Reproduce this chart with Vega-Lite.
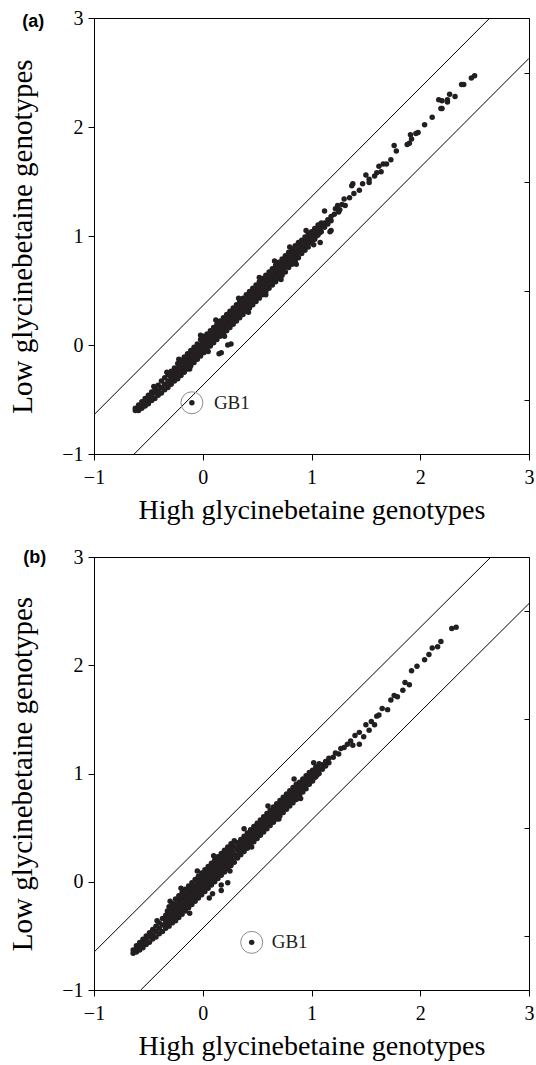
{
  "$schema": "https://vega.github.io/schema/vega-lite/v6.json",
  "padding": {"left": 8, "top": 7, "right": 0, "bottom": 0},
  "spacing": 21,
  "config": {
    "view": {"stroke": "black", "strokeWidth": 1},
    "font": "Liberation Serif",
    "axis": {
      "grid": false, "domainColor": "black", "tickColor": "black", "labelColor": "black", "titleColor": "black",
      "labelFont": "Liberation Serif", "titleFont": "Liberation Serif", "labelFontSize": 20, "titleFontSize": 28,
      "titleFontWeight": "normal", "labelFlush": false, "labelOverlap": false, "labelBound": false, "tickSize": 6, "domainWidth": 1, "tickWidth": 1
    }
  },
  "datasets": {
    "a": [
      {"x":-0.62,"y":-0.60},{"x":-0.62,"y":-0.58},
      {"x":-0.59,"y":-0.60},{"x":-0.59,"y":-0.57},{"x":-0.59,"y":-0.55},
      {"x":-0.56,"y":-0.58},{"x":-0.56,"y":-0.55},{"x":-0.56,"y":-0.52},
      {"x":-0.53,"y":-0.56},{"x":-0.53,"y":-0.52},{"x":-0.53,"y":-0.49},
      {"x":-0.50,"y":-0.54},{"x":-0.50,"y":-0.50},{"x":-0.50,"y":-0.46},
      {"x":-0.47,"y":-0.51},{"x":-0.47,"y":-0.47},{"x":-0.47,"y":-0.43},
      {"x":-0.44,"y":-0.49},{"x":-0.44,"y":-0.44},{"x":-0.44,"y":-0.40},
      {"x":-0.41,"y":-0.46},{"x":-0.41,"y":-0.42},{"x":-0.41,"y":-0.37},
      {"x":-0.38,"y":-0.44},{"x":-0.38,"y":-0.39},{"x":-0.38,"y":-0.33},
      {"x":-0.35,"y":-0.41},{"x":-0.35,"y":-0.36},{"x":-0.35,"y":-0.30},
      {"x":-0.32,"y":-0.39},{"x":-0.32,"y":-0.33},{"x":-0.32,"y":-0.27},
      {"x":-0.29,"y":-0.36},{"x":-0.29,"y":-0.30},{"x":-0.29,"y":-0.24},
      {"x":-0.26,"y":-0.33},{"x":-0.26,"y":-0.27},{"x":-0.26,"y":-0.21},
      {"x":-0.23,"y":-0.31},{"x":-0.23,"y":-0.24},{"x":-0.23,"y":-0.17},
      {"x":-0.20,"y":-0.28},{"x":-0.20,"y":-0.21},{"x":-0.20,"y":-0.14},
      {"x":-0.17,"y":-0.25},{"x":-0.17,"y":-0.18},{"x":-0.17,"y":-0.11},
      {"x":-0.14,"y":-0.22},{"x":-0.14,"y":-0.15},{"x":-0.14,"y":-0.08},
      {"x":-0.11,"y":-0.19},{"x":-0.11,"y":-0.12},{"x":-0.11,"y":-0.05},
      {"x":-0.08,"y":-0.16},{"x":-0.08,"y":-0.09},{"x":-0.08,"y":-0.02},
      {"x":-0.05,"y":-0.13},{"x":-0.05,"y":-0.06},{"x":-0.05,"y":0.01},
      {"x":-0.02,"y":-0.10},{"x":-0.02,"y":-0.03},{"x":-0.02,"y":0.05},
      {"x":0.01,"y":-0.07},{"x":0.01,"y":0.00},{"x":0.01,"y":0.08},
      {"x":0.04,"y":-0.04},{"x":0.04,"y":0.03},{"x":0.04,"y":0.10},
      {"x":0.07,"y":-0.01},{"x":0.07,"y":0.06},{"x":0.07,"y":0.13},
      {"x":0.10,"y":0.02},{"x":0.10,"y":0.09},{"x":0.10,"y":0.16},
      {"x":0.13,"y":0.05},{"x":0.13,"y":0.12},{"x":0.13,"y":0.19},
      {"x":0.16,"y":0.08},{"x":0.16,"y":0.15},{"x":0.16,"y":0.22},
      {"x":0.19,"y":0.11},{"x":0.19,"y":0.18},{"x":0.19,"y":0.25},
      {"x":0.22,"y":0.13},{"x":0.22,"y":0.21},{"x":0.22,"y":0.28},
      {"x":0.25,"y":0.16},{"x":0.25,"y":0.24},{"x":0.25,"y":0.31},
      {"x":0.28,"y":0.19},{"x":0.28,"y":0.27},{"x":0.28,"y":0.34},
      {"x":0.31,"y":0.22},{"x":0.31,"y":0.30},{"x":0.31,"y":0.37},
      {"x":0.34,"y":0.25},{"x":0.34,"y":0.33},{"x":0.34,"y":0.40},
      {"x":0.37,"y":0.28},{"x":0.37,"y":0.36},{"x":0.37,"y":0.43},
      {"x":0.40,"y":0.31},{"x":0.40,"y":0.39},{"x":0.40,"y":0.46},
      {"x":0.43,"y":0.34},{"x":0.43,"y":0.42},{"x":0.43,"y":0.49},
      {"x":0.46,"y":0.37},{"x":0.46,"y":0.45},{"x":0.46,"y":0.52},
      {"x":0.49,"y":0.40},{"x":0.49,"y":0.48},{"x":0.49,"y":0.55},
      {"x":0.52,"y":0.43},{"x":0.52,"y":0.51},{"x":0.52,"y":0.58},
      {"x":0.55,"y":0.46},{"x":0.55,"y":0.54},{"x":0.55,"y":0.61},
      {"x":0.58,"y":0.49},{"x":0.58,"y":0.57},{"x":0.58,"y":0.64},
      {"x":0.61,"y":0.52},{"x":0.61,"y":0.60},{"x":0.61,"y":0.67},
      {"x":0.64,"y":0.55},{"x":0.64,"y":0.63},{"x":0.64,"y":0.70},
      {"x":0.67,"y":0.58},{"x":0.67,"y":0.66},{"x":0.67,"y":0.73},
      {"x":0.70,"y":0.61},{"x":0.70,"y":0.69},{"x":0.70,"y":0.76},
      {"x":0.73,"y":0.64},{"x":0.73,"y":0.72},{"x":0.73,"y":0.79},
      {"x":0.76,"y":0.67},{"x":0.76,"y":0.75},{"x":0.76,"y":0.82},
      {"x":0.79,"y":0.71},{"x":0.79,"y":0.78},{"x":0.79,"y":0.85},
      {"x":0.82,"y":0.74},{"x":0.82,"y":0.81},{"x":0.82,"y":0.88},
      {"x":0.85,"y":0.77},{"x":0.85,"y":0.84},{"x":0.85,"y":0.91},
      {"x":0.88,"y":0.80},{"x":0.88,"y":0.87},{"x":0.88,"y":0.94},
      {"x":0.91,"y":0.84},{"x":0.91,"y":0.90},{"x":0.91,"y":0.96},
      {"x":0.94,"y":0.87},{"x":0.94,"y":0.93},{"x":0.94,"y":0.99},
      {"x":0.97,"y":0.90},{"x":0.97,"y":0.96},{"x":0.97,"y":1.02},
      {"x":1.00,"y":0.94},{"x":1.00,"y":0.99},{"x":1.00,"y":1.04},
      {"x":1.03,"y":0.97},{"x":1.03,"y":1.02},{"x":1.03,"y":1.07},
      {"x":1.06,"y":1.01},{"x":1.06,"y":1.05},{"x":1.06,"y":1.10},
      {"x":1.09,"y":1.04},{"x":1.09,"y":1.08},{"x":1.09,"y":1.12},
      {"x":1.12,"y":1.08},{"x":1.12,"y":1.12},
      {"x":1.15,"y":1.11},{"x":1.15,"y":1.15},
      {"x":1.18,"y":1.14},{"x":1.18,"y":1.18},
      {"x":-0.305,"y":-0.35},{"x":-0.305,"y":-0.28},{"x":-0.275,"y":-0.32},{"x":-0.275,"y":-0.25},
      {"x":-0.245,"y":-0.29},{"x":-0.245,"y":-0.22},{"x":-0.215,"y":-0.26},{"x":-0.215,"y":-0.19},
      {"x":-0.185,"y":-0.23},{"x":-0.185,"y":-0.16},{"x":-0.155,"y":-0.20},{"x":-0.155,"y":-0.13},
      {"x":-0.125,"y":-0.17},{"x":-0.125,"y":-0.10},{"x":-0.095,"y":-0.14},{"x":-0.095,"y":-0.07},
      {"x":-0.065,"y":-0.11},{"x":-0.065,"y":-0.04},{"x":-0.035,"y":-0.08},{"x":-0.035,"y":-0.01},
      {"x":-0.005,"y":-0.05},{"x":-0.005,"y":0.02},{"x":0.025,"y":-0.02},{"x":0.025,"y":0.05},
      {"x":0.055,"y":0.01},{"x":0.055,"y":0.08},{"x":0.085,"y":0.04},{"x":0.085,"y":0.11},
      {"x":0.115,"y":0.07},{"x":0.115,"y":0.14},{"x":0.145,"y":0.10},{"x":0.145,"y":0.17},
      {"x":0.175,"y":0.13},{"x":0.175,"y":0.20},{"x":0.205,"y":0.16},{"x":0.205,"y":0.23},
      {"x":0.235,"y":0.19},{"x":0.235,"y":0.26},{"x":0.265,"y":0.22},{"x":0.265,"y":0.29},
      {"x":0.295,"y":0.25},{"x":0.295,"y":0.32},{"x":0.325,"y":0.28},{"x":0.325,"y":0.35},
      {"x":0.355,"y":0.31},{"x":0.355,"y":0.38},{"x":0.385,"y":0.34},{"x":0.385,"y":0.41},
      {"x":0.415,"y":0.37},{"x":0.415,"y":0.44},{"x":0.445,"y":0.40},{"x":0.445,"y":0.47},
      {"x":0.475,"y":0.43},{"x":0.475,"y":0.50},{"x":0.505,"y":0.46},{"x":0.505,"y":0.53},
      {"x":0.535,"y":0.49},{"x":0.535,"y":0.56},{"x":0.565,"y":0.52},{"x":0.565,"y":0.59},
      {"x":0.595,"y":0.55},{"x":0.595,"y":0.62},{"x":0.625,"y":0.58},{"x":0.625,"y":0.65},
      {"x":0.655,"y":0.61},{"x":0.655,"y":0.68},{"x":0.685,"y":0.64},{"x":0.685,"y":0.71},
      {"x":0.715,"y":0.67},{"x":0.715,"y":0.74},{"x":0.745,"y":0.70},{"x":0.745,"y":0.77},
      {"x":0.775,"y":0.73},{"x":0.775,"y":0.80},{"x":0.805,"y":0.76},{"x":0.805,"y":0.83},
      {"x":0.835,"y":0.79},{"x":0.835,"y":0.86},{"x":0.865,"y":0.82},{"x":0.865,"y":0.89},
      {"x":0.895,"y":0.85},{"x":0.895,"y":0.92},{"x":0.925,"y":0.88},{"x":0.925,"y":0.95},
      {"x":0.955,"y":0.91},{"x":0.955,"y":0.98},{"x":0.985,"y":0.94},{"x":0.985,"y":1.01},
      {"x":1.015,"y":0.97},{"x":1.015,"y":1.04},{"x":1.045,"y":1.00},{"x":1.045,"y":1.07},
      {"x":1.075,"y":1.03},{"x":1.075,"y":1.10},
      {"x":-0.45,"y":-0.38},{"x":-0.33,"y":-0.25},{"x":-0.22,"y":-0.13},{"x":-0.12,"y":-0.22},{"x":-0.02,"y":0.09},
      {"x":0.05,"y":-0.06},{"x":0.12,"y":0.23},{"x":0.20,"y":0.08},{"x":0.33,"y":0.43},{"x":0.42,"y":0.30},
      {"x":0.52,"y":0.62},{"x":0.58,"y":0.46},{"x":0.66,"y":0.77},{"x":0.72,"y":0.60},{"x":0.80,"y":0.90},
      {"x":0.86,"y":0.74},{"x":0.95,"y":1.05},{"x":1.02,"y":0.92},
      {"x":1.21,"y":1.20},{"x":1.25,"y":1.22},{"x":1.22,"y":1.25},{"x":1.26,"y":1.24},{"x":1.31,"y":1.28},
      {"x":1.24,"y":1.28},{"x":1.28,"y":1.29},{"x":1.30,"y":1.34},{"x":1.35,"y":1.35},{"x":1.39,"y":1.39},
      {"x":1.44,"y":1.42},{"x":1.37,"y":1.46},{"x":1.38,"y":1.48},{"x":1.47,"y":1.48},{"x":1.53,"y":1.49},
      {"x":1.50,"y":1.56},{"x":1.53,"y":1.52},{"x":1.58,"y":1.55},{"x":1.60,"y":1.58},{"x":1.64,"y":1.59},
      {"x":1.62,"y":1.64},{"x":1.66,"y":1.66},{"x":1.69,"y":1.66},{"x":1.73,"y":1.70},{"x":1.78,"y":1.78},
      {"x":1.76,"y":1.83},{"x":1.90,"y":1.85},{"x":1.88,"y":1.84},{"x":1.92,"y":1.89},{"x":1.91,"y":1.93},
      {"x":1.96,"y":1.94},{"x":1.98,"y":1.95},{"x":2.04,"y":2.02},{"x":2.11,"y":2.09},{"x":2.20,"y":2.17},
      {"x":2.19,"y":2.17},{"x":2.17,"y":2.25},{"x":2.20,"y":2.24},{"x":2.25,"y":2.23},{"x":2.25,"y":2.25},
      {"x":2.27,"y":2.30},{"x":2.32,"y":2.28},{"x":2.38,"y":2.39},{"x":2.40,"y":2.39},{"x":2.47,"y":2.45},
      {"x":2.50,"y":2.47},{"x":1.12,"y":1.23},{"x":1.18,"y":1.05},{"x":1.17,"y":1.04},{"x":1.08,"y":0.94},
      {"x":0.23,"y":0.00},{"x":0.26,"y":0.01},{"x":0.15,"y":-0.08},{"x":0.17,"y":-0.07},
      {"x":-0.10,"y":-0.53}
    ],
    "b": [
      {"x":-0.64,"y":-0.66},{"x":-0.64,"y":-0.63},
      {"x":-0.61,"y":-0.65},{"x":-0.61,"y":-0.62},{"x":-0.61,"y":-0.59},
      {"x":-0.58,"y":-0.63},{"x":-0.58,"y":-0.60},{"x":-0.58,"y":-0.56},
      {"x":-0.55,"y":-0.61},{"x":-0.55,"y":-0.57},{"x":-0.55,"y":-0.53},
      {"x":-0.52,"y":-0.58},{"x":-0.52,"y":-0.54},{"x":-0.52,"y":-0.50},
      {"x":-0.49,"y":-0.56},{"x":-0.49,"y":-0.51},{"x":-0.49,"y":-0.47},
      {"x":-0.46,"y":-0.53},{"x":-0.46,"y":-0.49},{"x":-0.46,"y":-0.44},
      {"x":-0.43,"y":-0.51},{"x":-0.43,"y":-0.46},{"x":-0.43,"y":-0.41},
      {"x":-0.40,"y":-0.48},{"x":-0.40,"y":-0.43},{"x":-0.40,"y":-0.38},
      {"x":-0.37,"y":-0.46},{"x":-0.37,"y":-0.40},{"x":-0.37,"y":-0.34},
      {"x":-0.34,"y":-0.43},{"x":-0.34,"y":-0.37},{"x":-0.34,"y":-0.31},
      {"x":-0.31,"y":-0.41},{"x":-0.31,"y":-0.35},{"x":-0.31,"y":-0.28},{"x":-0.31,"y":-0.23},
      {"x":-0.28,"y":-0.38},{"x":-0.28,"y":-0.32},{"x":-0.28,"y":-0.25},{"x":-0.28,"y":-0.20},
      {"x":-0.25,"y":-0.36},{"x":-0.25,"y":-0.29},{"x":-0.25,"y":-0.22},{"x":-0.25,"y":-0.16},
      {"x":-0.22,"y":-0.33},{"x":-0.22,"y":-0.26},{"x":-0.22,"y":-0.19},{"x":-0.22,"y":-0.13},
      {"x":-0.19,"y":-0.30},{"x":-0.19,"y":-0.23},{"x":-0.19,"y":-0.16},{"x":-0.19,"y":-0.10},
      {"x":-0.16,"y":-0.27},{"x":-0.16,"y":-0.20},{"x":-0.16,"y":-0.13},{"x":-0.16,"y":-0.07},
      {"x":-0.13,"y":-0.24},{"x":-0.13,"y":-0.17},{"x":-0.13,"y":-0.10},{"x":-0.13,"y":-0.04},
      {"x":-0.10,"y":-0.21},{"x":-0.10,"y":-0.14},{"x":-0.10,"y":-0.07},{"x":-0.10,"y":-0.01},
      {"x":-0.07,"y":-0.18},{"x":-0.07,"y":-0.11},{"x":-0.07,"y":-0.04},{"x":-0.07,"y":0.02},
      {"x":-0.04,"y":-0.15},{"x":-0.04,"y":-0.08},{"x":-0.04,"y":-0.01},{"x":-0.04,"y":0.05},
      {"x":-0.01,"y":-0.12},{"x":-0.01,"y":-0.05},{"x":-0.01,"y":0.02},{"x":-0.01,"y":0.08},
      {"x":0.02,"y":-0.09},{"x":0.02,"y":-0.02},{"x":0.02,"y":0.05},{"x":0.02,"y":0.11},
      {"x":0.05,"y":-0.06},{"x":0.05,"y":0.01},{"x":0.05,"y":0.08},{"x":0.05,"y":0.14},
      {"x":0.08,"y":-0.03},{"x":0.08,"y":0.04},{"x":0.08,"y":0.11},{"x":0.08,"y":0.17},
      {"x":0.11,"y":0.00},{"x":0.11,"y":0.07},{"x":0.11,"y":0.14},{"x":0.11,"y":0.20},
      {"x":0.14,"y":0.03},{"x":0.14,"y":0.10},{"x":0.14,"y":0.17},{"x":0.14,"y":0.23},
      {"x":0.17,"y":0.06},{"x":0.17,"y":0.13},{"x":0.17,"y":0.20},{"x":0.17,"y":0.26},
      {"x":0.20,"y":0.09},{"x":0.20,"y":0.16},{"x":0.20,"y":0.23},{"x":0.20,"y":0.29},
      {"x":0.23,"y":0.12},{"x":0.23,"y":0.19},{"x":0.23,"y":0.26},{"x":0.23,"y":0.32},
      {"x":0.26,"y":0.15},{"x":0.26,"y":0.22},{"x":0.26,"y":0.29},{"x":0.26,"y":0.35},
      {"x":0.29,"y":0.18},{"x":0.29,"y":0.25},{"x":0.29,"y":0.32},{"x":0.29,"y":0.38},
      {"x":0.32,"y":0.22},{"x":0.32,"y":0.29},{"x":0.32,"y":0.36},
      {"x":0.35,"y":0.25},{"x":0.35,"y":0.32},{"x":0.35,"y":0.39},
      {"x":0.38,"y":0.28},{"x":0.38,"y":0.35},{"x":0.38,"y":0.42},
      {"x":0.41,"y":0.31},{"x":0.41,"y":0.38},{"x":0.41,"y":0.45},
      {"x":0.44,"y":0.34},{"x":0.44,"y":0.41},{"x":0.44,"y":0.48},
      {"x":0.47,"y":0.37},{"x":0.47,"y":0.44},{"x":0.47,"y":0.51},
      {"x":0.50,"y":0.40},{"x":0.50,"y":0.47},{"x":0.50,"y":0.54},
      {"x":0.53,"y":0.43},{"x":0.53,"y":0.50},{"x":0.53,"y":0.57},
      {"x":0.56,"y":0.46},{"x":0.56,"y":0.53},{"x":0.56,"y":0.60},
      {"x":0.59,"y":0.49},{"x":0.59,"y":0.56},{"x":0.59,"y":0.63},
      {"x":0.62,"y":0.52},{"x":0.62,"y":0.59},{"x":0.62,"y":0.66},
      {"x":0.65,"y":0.55},{"x":0.65,"y":0.62},{"x":0.65,"y":0.69},
      {"x":0.68,"y":0.58},{"x":0.68,"y":0.65},{"x":0.68,"y":0.72},
      {"x":0.71,"y":0.61},{"x":0.71,"y":0.68},{"x":0.71,"y":0.75},
      {"x":0.74,"y":0.64},{"x":0.74,"y":0.71},{"x":0.74,"y":0.78},
      {"x":0.77,"y":0.67},{"x":0.77,"y":0.74},{"x":0.77,"y":0.81},
      {"x":0.80,"y":0.70},{"x":0.80,"y":0.77},{"x":0.80,"y":0.84},
      {"x":0.83,"y":0.73},{"x":0.83,"y":0.80},{"x":0.83,"y":0.87},
      {"x":0.86,"y":0.76},{"x":0.86,"y":0.83},{"x":0.86,"y":0.90},
      {"x":0.89,"y":0.80},{"x":0.89,"y":0.86},{"x":0.89,"y":0.92},
      {"x":0.92,"y":0.83},{"x":0.92,"y":0.89},{"x":0.92,"y":0.95},
      {"x":0.95,"y":0.86},{"x":0.95,"y":0.92},{"x":0.95,"y":0.98},
      {"x":0.98,"y":0.90},{"x":0.98,"y":0.95},{"x":0.98,"y":1.01},
      {"x":1.01,"y":0.93},{"x":1.01,"y":0.98},{"x":1.01,"y":1.03},
      {"x":1.04,"y":0.97},{"x":1.04,"y":1.01},{"x":1.04,"y":1.06},
      {"x":1.07,"y":1.00},{"x":1.07,"y":1.04},{"x":1.07,"y":1.09},
      {"x":1.10,"y":1.04},{"x":1.10,"y":1.08},
      {"x":1.13,"y":1.07},{"x":1.13,"y":1.11},
      {"x":1.16,"y":1.10},{"x":1.16,"y":1.14},
      {"x":-0.325,"y":-0.40},{"x":-0.325,"y":-0.33},{"x":-0.325,"y":-0.27},
      {"x":-0.295,"y":-0.37},{"x":-0.295,"y":-0.30},{"x":-0.295,"y":-0.24},
      {"x":-0.265,"y":-0.34},{"x":-0.265,"y":-0.27},{"x":-0.265,"y":-0.21},
      {"x":-0.235,"y":-0.31},{"x":-0.235,"y":-0.24},{"x":-0.235,"y":-0.18},
      {"x":-0.205,"y":-0.28},{"x":-0.205,"y":-0.21},{"x":-0.205,"y":-0.15},
      {"x":-0.175,"y":-0.25},{"x":-0.175,"y":-0.18},{"x":-0.175,"y":-0.12},
      {"x":-0.145,"y":-0.22},{"x":-0.145,"y":-0.15},{"x":-0.145,"y":-0.09},
      {"x":-0.115,"y":-0.19},{"x":-0.115,"y":-0.12},{"x":-0.115,"y":-0.06},
      {"x":-0.085,"y":-0.16},{"x":-0.085,"y":-0.09},{"x":-0.085,"y":-0.03},
      {"x":-0.055,"y":-0.13},{"x":-0.055,"y":-0.06},{"x":-0.055,"y":0.01},
      {"x":-0.025,"y":-0.10},{"x":-0.025,"y":-0.03},{"x":-0.025,"y":0.04},
      {"x":0.005,"y":-0.07},{"x":0.005,"y":0.00},{"x":0.005,"y":0.07},
      {"x":0.035,"y":-0.04},{"x":0.035,"y":0.03},{"x":0.035,"y":0.10},
      {"x":0.065,"y":-0.01},{"x":0.065,"y":0.06},{"x":0.065,"y":0.13},
      {"x":0.095,"y":0.02},{"x":0.095,"y":0.09},{"x":0.095,"y":0.16},
      {"x":0.125,"y":0.05},{"x":0.125,"y":0.12},{"x":0.125,"y":0.19},
      {"x":0.155,"y":0.08},{"x":0.155,"y":0.15},{"x":0.155,"y":0.22},
      {"x":0.185,"y":0.11},{"x":0.185,"y":0.18},{"x":0.185,"y":0.25},
      {"x":0.215,"y":0.14},{"x":0.215,"y":0.21},{"x":0.215,"y":0.28},
      {"x":0.245,"y":0.17},{"x":0.245,"y":0.24},{"x":0.245,"y":0.31},
      {"x":0.275,"y":0.20},{"x":0.275,"y":0.27},{"x":0.275,"y":0.34},
      {"x":0.305,"y":0.24},{"x":0.305,"y":0.31},{"x":0.335,"y":0.27},{"x":0.335,"y":0.34},
      {"x":0.365,"y":0.30},{"x":0.365,"y":0.37},{"x":0.395,"y":0.33},{"x":0.395,"y":0.40},
      {"x":0.425,"y":0.36},{"x":0.425,"y":0.43},{"x":0.455,"y":0.39},{"x":0.455,"y":0.46},
      {"x":0.485,"y":0.42},{"x":0.485,"y":0.49},{"x":0.515,"y":0.45},{"x":0.515,"y":0.52},
      {"x":0.545,"y":0.48},{"x":0.545,"y":0.55},{"x":0.575,"y":0.51},{"x":0.575,"y":0.58},
      {"x":0.605,"y":0.54},{"x":0.605,"y":0.61},{"x":0.635,"y":0.57},{"x":0.635,"y":0.64},
      {"x":0.665,"y":0.60},{"x":0.665,"y":0.67},{"x":0.695,"y":0.63},{"x":0.695,"y":0.70},
      {"x":0.725,"y":0.66},{"x":0.725,"y":0.73},{"x":0.755,"y":0.69},{"x":0.755,"y":0.76},
      {"x":0.785,"y":0.72},{"x":0.785,"y":0.79},{"x":0.815,"y":0.75},{"x":0.815,"y":0.82},
      {"x":0.845,"y":0.78},{"x":0.845,"y":0.85},{"x":0.875,"y":0.81},{"x":0.875,"y":0.88},
      {"x":0.905,"y":0.84},{"x":0.905,"y":0.91},{"x":0.935,"y":0.87},{"x":0.935,"y":0.94},
      {"x":0.965,"y":0.90},{"x":0.965,"y":0.97},{"x":0.995,"y":0.93},{"x":0.995,"y":1.00},
      {"x":1.025,"y":0.96},{"x":1.025,"y":1.03},{"x":1.055,"y":0.99},{"x":1.055,"y":1.06},
      {"x":-0.42,"y":-0.36},{"x":-0.30,"y":-0.18},{"x":-0.20,"y":-0.06},{"x":-0.05,"y":0.10},{"x":0.10,"y":0.24},
      {"x":0.25,"y":0.10},{"x":0.38,"y":0.49},{"x":0.45,"y":0.32},{"x":0.60,"y":0.70},{"x":0.70,"y":0.58},
      {"x":0.84,"y":0.95},{"x":0.90,"y":0.77},{"x":1.02,"y":1.10},
      {"x":1.20,"y":1.15},{"x":1.22,"y":1.19},{"x":1.25,"y":1.18},{"x":1.27,"y":1.23},{"x":1.30,"y":1.24},
      {"x":1.33,"y":1.27},{"x":1.36,"y":1.30},{"x":1.38,"y":1.26},{"x":1.40,"y":1.35},{"x":1.44,"y":1.27},
      {"x":1.44,"y":1.38},{"x":1.48,"y":1.34},{"x":1.50,"y":1.45},{"x":1.53,"y":1.40},{"x":1.55,"y":1.48},
      {"x":1.58,"y":1.45},{"x":1.60,"y":1.53},{"x":1.62,"y":1.54},{"x":1.65,"y":1.60},{"x":1.70,"y":1.59},
      {"x":1.73,"y":1.68},{"x":1.76,"y":1.72},{"x":1.79,"y":1.71},{"x":1.84,"y":1.77},{"x":1.86,"y":1.84},
      {"x":1.90,"y":1.82},{"x":1.92,"y":1.95},{"x":1.97,"y":1.99},{"x":2.04,"y":2.05},{"x":2.08,"y":2.10},
      {"x":2.11,"y":2.16},{"x":2.16,"y":2.17},{"x":2.19,"y":2.22},{"x":2.29,"y":2.34},{"x":2.33,"y":2.35},
      {"x":0.17,"y":-0.03},{"x":0.23,"y":-0.01},{"x":0.17,"y":-0.08},{"x":0.09,"y":-0.11},{"x":0.06,"y":-0.15},{"x":-0.12,"y":-0.29},
      {"x":0.45,"y":-0.56}
    ],
    "la": [
      {"g":"u","x":-1,"y":-0.64},{"g":"u","x":2.64,"y":3},
      {"g":"l","x":-0.63,"y":-1},{"g":"l","x":3,"y":2.63}
    ],
    "lb": [
      {"g":"u","x":-1,"y":-0.65},{"g":"u","x":2.65,"y":3},
      {"g":"l","x":-0.57,"y":-1},{"g":"l","x":3,"y":2.57}
    ],
    "ga": [{"x":-0.10,"y":-0.53,"t":"GB1"}],
    "gb": [{"x":0.45,"y":-0.56,"t":"GB1"}],
    "ta": [{"x":-1.66,"y":2.96,"t":"(a)"}],
    "tb": [{"x":-1.65,"y":2.99,"t":"(b)"}]
  },
  "vconcat": [
    {
      "width": 435, "height": 436,
      "resolve": {"axis": {"y": "independent"}},
      "layer": [
        {
          "data": {"name": "la"},
          "mark": {"type": "line", "color": "black", "strokeWidth": 1, "clip": true},
          "encoding": {
            "x": {"field": "x", "type": "quantitative", "scale": {"domain": [-1, 3], "nice": false, "zero": false},
                  "axis": {"values": [-1, 0, 1, 2, 3], "format": "d", "title": "High glycinebetaine genotypes", "labelPadding": 7, "titlePadding": 9}},
            "y": {"field": "y", "type": "quantitative", "scale": {"domain": [-1, 3], "nice": false, "zero": false},
                  "axis": {"orient": "left", "values": [-1, 0, 1, 2, 3], "format": "d", "title": "Low glycinebetaine genotypes", "titleFontSize": 29, "labelPadding": 5, "titlePadding": 24}},
            "detail": {"field": "g"}
          }
        },
        {
          "data": {"name": "a"},
          "mark": {"type": "circle", "size": 30, "color": "#231f20", "opacity": 1, "clip": true},
          "encoding": {
            "x": {"field": "x", "type": "quantitative", "scale": {"domain": [-1, 3], "nice": false, "zero": false}},
            "y": {"field": "y", "type": "quantitative", "scale": {"domain": [-1, 3], "nice": false, "zero": false},
                  "axis": {"orient": "right", "values": [-0.5, 0.5, 1.5, 2.5], "labels": false, "tickSize": -5, "title": null}}
          }
        },
        {
          "data": {"name": "ga"},
          "mark": {"type": "point", "shape": "circle", "size": 484, "filled": false, "stroke": "#8c8c8c", "strokeWidth": 1, "opacity": 1},
          "encoding": {
            "x": {"field": "x", "type": "quantitative", "scale": {"domain": [-1, 3], "nice": false, "zero": false}},
            "y": {"field": "y", "type": "quantitative", "scale": {"domain": [-1, 3], "nice": false, "zero": false}, "axis": null}
          }
        },
        {
          "data": {"name": "ga"},
          "mark": {"type": "text", "align": "left", "baseline": "middle", "dx": 22, "fontSize": 19, "font": "Liberation Serif", "color": "#231f20"},
          "encoding": {
            "x": {"field": "x", "type": "quantitative", "scale": {"domain": [-1, 3], "nice": false, "zero": false}},
            "y": {"field": "y", "type": "quantitative", "scale": {"domain": [-1, 3], "nice": false, "zero": false}, "axis": null},
            "text": {"field": "t"}
          }
        },
        {
          "data": {"name": "ta"},
          "mark": {"type": "text", "align": "left", "baseline": "middle", "fontSize": 18, "font": "Liberation Sans", "fontWeight": "bold", "color": "black", "clip": false},
          "encoding": {
            "x": {"field": "x", "type": "quantitative", "scale": {"domain": [-1, 3], "nice": false, "zero": false}},
            "y": {"field": "y", "type": "quantitative", "scale": {"domain": [-1, 3], "nice": false, "zero": false}, "axis": null},
            "text": {"field": "t"}
          }
        }
      ]
    },
    {
      "width": 435, "height": 433,
      "resolve": {"axis": {"y": "independent"}},
      "layer": [
        {
          "data": {"name": "lb"},
          "mark": {"type": "line", "color": "black", "strokeWidth": 1, "clip": true},
          "encoding": {
            "x": {"field": "x", "type": "quantitative", "scale": {"domain": [-1, 3], "nice": false, "zero": false},
                  "axis": {"values": [-1, 0, 1, 2, 3], "format": "d", "title": "High glycinebetaine genotypes", "labelPadding": 7, "titlePadding": 9}},
            "y": {"field": "y", "type": "quantitative", "scale": {"domain": [-1, 3], "nice": false, "zero": false},
                  "axis": {"orient": "left", "values": [-1, 0, 1, 2, 3], "format": "d", "title": "Low glycinebetaine genotypes", "titleFontSize": 29, "labelPadding": 5, "titlePadding": 24}},
            "detail": {"field": "g"}
          }
        },
        {
          "data": {"name": "b"},
          "mark": {"type": "circle", "size": 30, "color": "#231f20", "opacity": 1, "clip": true},
          "encoding": {
            "x": {"field": "x", "type": "quantitative", "scale": {"domain": [-1, 3], "nice": false, "zero": false}},
            "y": {"field": "y", "type": "quantitative", "scale": {"domain": [-1, 3], "nice": false, "zero": false},
                  "axis": {"orient": "right", "values": [-0.5, 0.5, 1.5, 2.5], "labels": false, "tickSize": -5, "title": null}}
          }
        },
        {
          "data": {"name": "gb"},
          "mark": {"type": "point", "shape": "circle", "size": 484, "filled": false, "stroke": "#8c8c8c", "strokeWidth": 1, "opacity": 1},
          "encoding": {
            "x": {"field": "x", "type": "quantitative", "scale": {"domain": [-1, 3], "nice": false, "zero": false}},
            "y": {"field": "y", "type": "quantitative", "scale": {"domain": [-1, 3], "nice": false, "zero": false}, "axis": null}
          }
        },
        {
          "data": {"name": "gb"},
          "mark": {"type": "text", "align": "left", "baseline": "middle", "dx": 20, "fontSize": 19, "font": "Liberation Serif", "color": "#231f20"},
          "encoding": {
            "x": {"field": "x", "type": "quantitative", "scale": {"domain": [-1, 3], "nice": false, "zero": false}},
            "y": {"field": "y", "type": "quantitative", "scale": {"domain": [-1, 3], "nice": false, "zero": false}, "axis": null},
            "text": {"field": "t"}
          }
        },
        {
          "data": {"name": "tb"},
          "mark": {"type": "text", "align": "left", "baseline": "middle", "fontSize": 18, "font": "Liberation Sans", "fontWeight": "bold", "color": "black", "clip": false},
          "encoding": {
            "x": {"field": "x", "type": "quantitative", "scale": {"domain": [-1, 3], "nice": false, "zero": false}},
            "y": {"field": "y", "type": "quantitative", "scale": {"domain": [-1, 3], "nice": false, "zero": false}, "axis": null},
            "text": {"field": "t"}
          }
        }
      ]
    }
  ]
}
